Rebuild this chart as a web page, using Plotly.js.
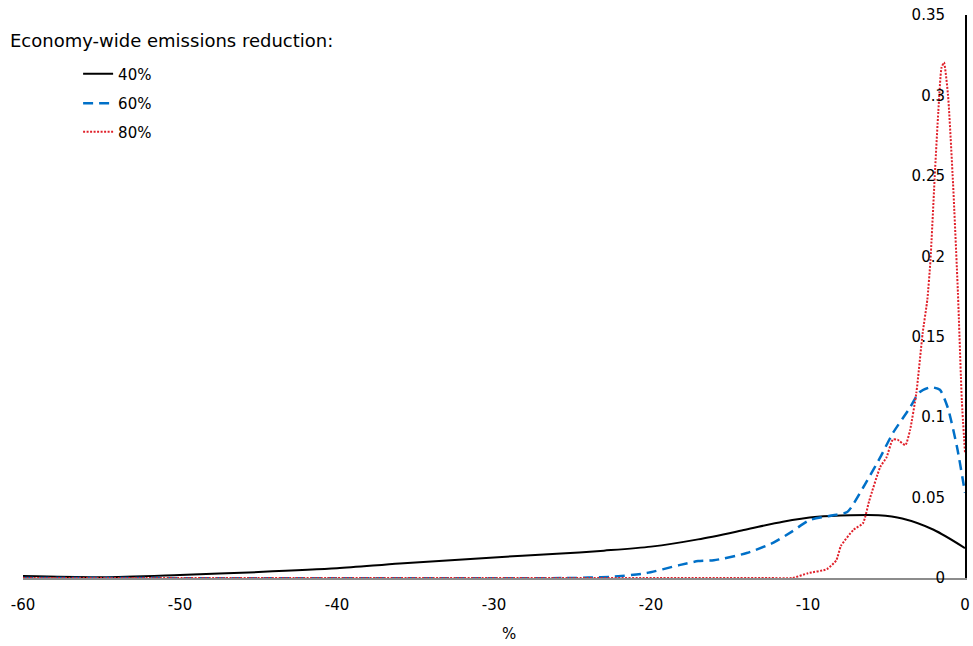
<!DOCTYPE html>
<html><head><meta charset="utf-8">
<script src="https://cdn.plot.ly/plotly-3.0.1.min.js"></script>
<style>body{margin:0;background:#fff}#c{width:973px;height:646px}</style>
</head><body><div id="c"></div>
<script>
const seriesNames = ["40%", "60%", "80%"];
const x40 = [-60,-55,-50,-45,-40,-36,-30,-26,-23,-20,-17,-14,-11.6,-9.4,-7.3,-5.5,-4,-2,0];
const y40 = [0.0012,0.0005,0.0019,0.0037,0.006,0.009,0.0128,0.015,0.017,0.0195,0.024,0.030,0.035,0.038,0.039,0.039,0.037,0.030,0.0186];
const x60 = [-60,-25,-24,-22.4,-20.3,-18.2,-17,-16,-13.9,-12.2,-11,-9.9,-8.4,-7.5,-6.5,-5.4,-4.6,-3.5,-2.9,-2.2,-1.6,-1.1,-0.5,0];
const y60 = [0,0,0.0003,0.0008,0.003,0.008,0.0105,0.011,0.0155,0.022,0.029,0.036,0.039,0.041,0.056,0.075,0.09,0.106,0.1155,0.1186,0.117,0.106,0.081,0.053];
const x80 = [-60,-12.5,-11,-10,-8.8,-8.2,-7.9,-7.1,-6.5,-6.1,-5.4,-5,-4.6,-4.3,-3.8,-3.5,-3.1,-2.7,-2.4,-2.2,-1.9,-1.7,-1.5,-1.34,-1.08,-0.76,-0.45,-0.2,0];
const y80 = [0,0,0,0.003,0.0055,0.011,0.02,0.030,0.034,0.048,0.069,0.075,0.086,0.086,0.0826,0.092,0.115,0.152,0.173,0.1975,0.255,0.29,0.317,0.3205,0.30,0.245,0.177,0.11,0.078];
const xTicks = [-60,-50,-40,-30,-20,-10,0];
const yTicks = [0,0.05,0.1,0.15,0.2,0.25,0.3,0.35];
const legendTitle = "Economy-wide emissions reduction:";
const xTitle = "%";

const F = "DejaVu Sans, Verdana, sans-serif";
const traces = [
  {x:x40, y:y40, name:seriesNames[0], mode:"lines", line:{color:"#000000", width:2, shape:"spline", smoothing:0.8}, legend:"legend"},
  {x:x60, y:y60, name:seriesNames[1], mode:"lines", line:{color:"#0070C8", width:2.5, dash:"10px,6px", shape:"spline", smoothing:0.6}, legend:"legend2"},
  {x:x80, y:y80, name:seriesNames[2], mode:"lines", line:{color:"#E0202A", width:2, dash:"2px,1.5px", shape:"spline", smoothing:0.5}, legend:"legend3"}
];
const legBase = {xanchor:"left", yanchor:"middle", bgcolor:"rgba(0,0,0,0)", borderwidth:0, font:{family:F, size:15, color:"#000"}};
const layout = {
  width:973, height:646,
  margin:{l:23, r:8, t:15, b:68},
  paper_bgcolor:"#fff", plot_bgcolor:"#fff",
  showlegend:true,
  legend: Object.assign({x:0.0585, y:0.895}, legBase),
  legend2: Object.assign({x:0.0585, y:0.843}, legBase),
  legend3: Object.assign({x:0.0585, y:0.792}, legBase),
  xaxis:{range:[-60,0], tickvals:xTicks, ticktext:xTicks.map(String), showgrid:false, zeroline:false,
         showline:true, linecolor:"#8c8c8c", linewidth:1.5, ticks:"", ticklabelstandoff:12,
         tickfont:{family:F, size:15, color:"#000"}},
  yaxis:{range:[0,0.35], tickvals:yTicks, ticktext:yTicks.map(String), side:"right", ticklabelposition:"inside",
         ticklabeloverflow:"allow", showgrid:false, zeroline:false, showline:true, linecolor:"#000", linewidth:2,
         ticks:"", ticklabelstandoff:20, tickfont:{family:F, size:15, color:"#000"}},
  annotations:[
    {text:legendTitle, xref:"paper", yref:"paper", x:-0.016, y:0.955, xanchor:"left", yanchor:"middle", showarrow:false, font:{family:F, size:18, color:"#000"}},
    {text:xTitle, xref:"paper", yref:"paper", x:0.516, y:-0.1, xanchor:"center", yanchor:"middle", showarrow:false, font:{family:F, size:15, color:"#000"}}
  ]
};
Plotly.newPlot("c", traces, layout, {displayModeBar:false, staticPlot:true});
</script></body></html>
